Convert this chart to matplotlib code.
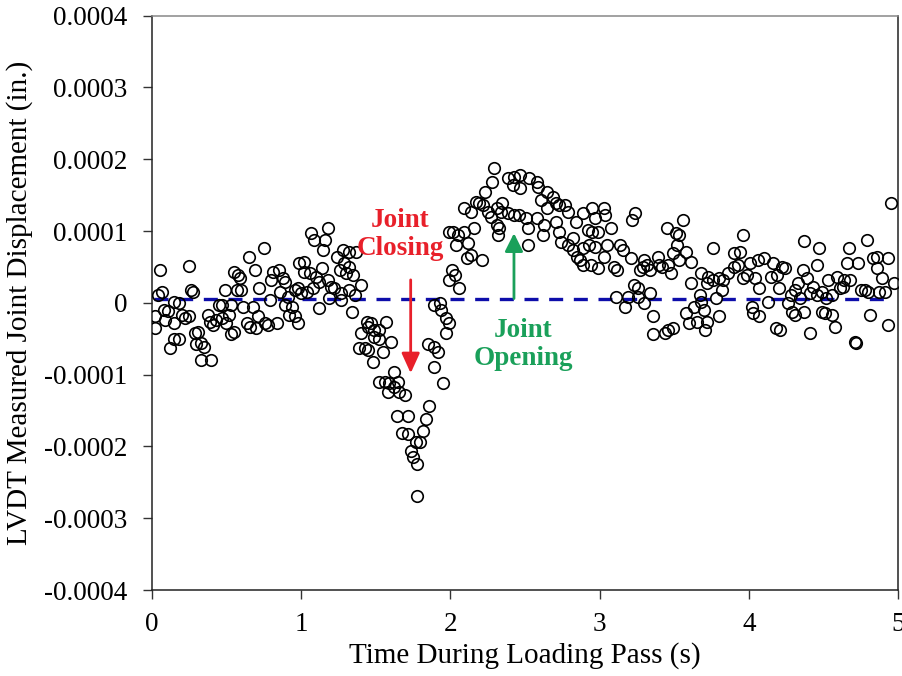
import matplotlib
matplotlib.use("Agg")
import matplotlib.pyplot as plt
import numpy as np

# ---- data (time in s, displacement in 1e-4 in.) ----
time_s = [
    0.055, 0.04, 0.07, 0.02, 0.02, 0.08, 0.11, 0.09, 0.15, 0.12, 0.15, 0.18, 0.15, 0.18, 0.20, 0.22,
    0.25, 0.26, 0.28, 0.25, 0.29, 0.31, 0.30, 0.33, 0.35, 0.33, 0.40, 0.38, 0.39, 0.41, 0.43, 0.47,
    0.45, 0.49, 0.52, 0.50, 0.53, 0.55, 0.47, 0.55, 0.58, 0.59, 0.57, 0.60, 0.53, 0.61, 0.65, 0.69,
    0.68, 0.64, 0.66, 0.70, 0.71, 0.72, 0.75, 0.76, 0.78, 0.84, 0.79, 0.80, 0.81, 0.85, 0.88, 0.89,
    0.86, 0.91, 0.96, 0.89, 0.92, 0.96, 0.98, 0.99,
    1.07, 1.09, 1.18, 1.16, 1.15, 1.02, 1.02, 1.06, 1.14, 1.10, 1.12, 0.98, 1.04, 1.00, 1.08, 1.18,
    1.20, 1.22, 1.19, 1.12, 1.24, 1.28, 1.32, 1.37, 1.26, 1.29, 1.32, 1.30, 1.35, 1.27, 1.27, 1.36,
    1.40, 1.34, 1.32, 0.94, 1.44, 1.47, 1.57, 1.45, 1.99, 1.99,
    1.49, 1.52, 1.40, 1.49, 1.52, 1.60, 1.39, 1.43, 1.45, 1.55, 1.48, 1.52, 1.56, 1.62, 1.59, 1.65,
    1.58, 1.66, 1.62, 1.70, 1.64, 1.72, 1.68, 1.72, 1.74, 1.75, 1.78, 1.77, 1.80, 1.82, 1.84, 1.86,
    1.78, 1.85, 1.89, 1.92, 1.89, 1.95, 1.89, 1.93, 1.94, 1.97, 1.99, 1.97, 2.06,
    2.29, 2.28, 2.23, 2.09, 2.14, 2.17, 2.19, 2.22, 2.25, 2.27, 2.31, 2.35, 2.34, 2.39, 2.43, 2.46,
    2.31, 2.33, 2.32, 2.39, 2.43, 2.47, 2.42, 2.47, 2.53, 2.58, 2.59, 2.61, 2.65, 2.69, 2.71, 2.73,
    2.77, 2.79, 2.65, 2.58, 2.51, 2.52, 2.63, 2.62, 2.71, 2.73, 2.74, 2.84, 2.89, 2.95, 2.97, 2.92,
    2.95, 2.82, 2.79, 2.82, 2.85, 2.89, 2.93, 2.97, 2.89, 2.94, 2.87, 2.52, 2.02, 2.05, 2.09, 2.16,
    2.04, 2.12, 2.14, 2.11, 2.21, 2.01, 2.03,
    3.03, 3.04, 3.24, 3.22, 3.08, 2.99, 3.05, 3.14, 3.16, 3.03, 3.21, 2.99, 3.10, 3.12, 3.30, 3.32,
    3.34, 3.39, 3.40, 3.42, 3.46, 3.48, 3.49, 3.52, 3.53, 3.51, 3.56, 3.45, 3.58, 3.61, 3.53, 3.29,
    3.27, 3.68, 3.76, 3.73, 3.76, 3.80, 3.83, 3.86, 3.90, 3.90, 3.93, 3.96, 3.96, 3.82, 3.78, 3.72,
    3.61, 3.67, 3.68, 3.63, 3.70, 3.58, 3.60, 3.65, 3.72, 3.71, 3.80, 3.23, 3.26, 3.34, 3.11, 3.19,
    3.26, 3.17, 3.30, 3.36, 3.36, 3.44, 3.46, 3.49,
    4.95, 4.37, 4.47, 4.67, 4.79, 3.94, 4.01, 4.06, 4.10, 4.16, 4.22, 4.24, 3.99, 4.04, 4.15, 4.19,
    4.07, 4.20, 4.36, 4.46, 4.66, 4.73, 4.83, 4.86, 4.93, 4.86, 4.89, 4.97, 4.33, 4.39, 4.53, 4.59,
    4.64, 4.68, 4.61, 4.63, 4.31, 4.43, 4.49, 4.56, 4.75, 4.78, 4.80, 4.87, 4.91, 4.28, 4.34, 4.41,
    4.46, 4.52, 4.13, 4.26, 4.02, 4.03, 4.07, 4.29, 4.31, 4.37, 4.49, 4.51, 4.56, 4.81, 4.18, 4.21,
    4.41, 4.58, 4.71, 4.93, 4.72,
]
disp_e4 = [
    0.46, 0.11, 0.15, -0.19, -0.35, -0.10, -0.12, -0.24, -0.28, -0.63, -0.51, -0.51, 0.01, 0.00, -0.17, -0.21,
    -0.19, 0.18, 0.15, 0.51, -0.42, -0.40, -0.58, -0.56, -0.61, -0.79, -0.79, -0.17, -0.26, -0.31, -0.24, -0.21,
    -0.03, 0.18, -0.17, -0.28, -0.44, -0.40, -0.03, 0.43, 0.39, 0.35, 0.18, 0.18, -0.03, -0.06, 0.64, 0.46,
    -0.06, -0.28, -0.33, -0.35, -0.19, 0.21, 0.76, -0.28, -0.31, -0.28, 0.04, 0.32, 0.43, 0.46, 0.35, 0.29,
    0.15, 0.08, 0.18, -0.03, -0.17, -0.19, -0.28, 0.56,
    0.97, 0.875, 1.04, 0.875, 0.74, 0.57, 0.43, 0.42, 0.49, 0.36, 0.29, 0.21, 0.15, 0.14, 0.21, 0.32,
    0.22, 0.21, 0.07, -0.07, 0.64, 0.74, 0.71, 0.71, 0.46, 0.56, 0.50, 0.42, 0.39, 0.14, 0.04, 0.11,
    0.25, -0.13, 0.18, -0.06, -0.26, -0.28, -0.26, -0.33, 0.99, 0.32,
    -0.38, -0.38, -0.42, -0.47, -0.51, -0.54, -0.63, -0.63, -0.65, -0.69, -0.82, -1.10, -1.10, -0.97, -1.11, -1.10,
    -1.24, -1.24, -1.17, -1.28, -1.58, -1.58, -1.81, -1.83, -2.07, -2.15, -2.25, -1.94, -1.94, -1.79, -1.62, -1.43,
    -2.69, -0.58, -0.61, -0.69, -0.89, -1.11, -0.03, 0.00, -0.10, -0.21, -0.28, -0.42, 0.21,
    1.875, 1.68, 1.54, 1.32, 1.26, 1.40, 1.39, 1.36, 1.26, 1.19, 1.32, 1.39, 1.26, 1.25, 1.22, 1.22,
    1.08, 1.04, 0.94, 1.74, 1.75, 1.78, 1.64, 1.60, 1.74, 1.68, 1.61, 1.43, 1.54, 1.47, 1.39, 1.36,
    1.36, 1.26, 1.32, 1.18, 1.18, 1.04, 1.08, 0.94, 1.13, 0.99, 0.85, 1.13, 1.25, 1.32, 1.18, 1.01,
    0.99, 0.90, 0.81, 0.74, 0.64, 0.76, 0.81, 0.78, 0.53, 0.53, 0.60, 0.81, 0.99, 0.94, 0.99, 1.04,
    0.81, 0.83, 0.67, 0.63, 0.60, 0.46, 0.39,
    1.32, 1.22, 1.25, 1.15, 1.04, 0.99, 0.81, 0.81, 0.74, 0.64, 0.63, 0.49, 0.50, 0.46, 0.60, 0.53,
    0.46, 0.64, 0.53, 0.50, 0.53, 0.42, 0.69, 0.81, 0.94, 0.97, 1.15, 1.04, 0.71, 0.57, 0.60, 0.50,
    0.46, 0.42, 0.76, 0.36, 0.32, 0.35, 0.32, 0.42, 0.69, 0.50, 0.53, 0.94, 0.35, 0.18, 0.07, 0.28,
    0.28, 0.11, 0.01, -0.06, -0.10, -0.14, -0.28, -0.26, -0.26, -0.38, -0.19, 0.25, 0.21, 0.14, 0.08, 0.08,
    0.08, -0.06, 0.00, -0.19, -0.44, -0.42, -0.38, -0.35,
    1.39, 0.86, 0.76, 0.76, 0.875, 0.71, 0.56, 0.60, 0.63, 0.56, 0.50, 0.49, 0.39, 0.35, 0.36, 0.39,
    0.21, 0.21, 0.46, 0.53, 0.56, 0.56, 0.63, 0.64, 0.63, 0.49, 0.35, 0.28, 0.28, 0.35, 0.32, 0.36,
    0.32, 0.32, 0.21, 0.22, 0.18, 0.22, 0.15, 0.11, 0.18, 0.18, 0.15, 0.15, 0.15, 0.11, 0.07, 0.14,
    0.11, 0.07, 0.01, 0.00, -0.06, -0.14, -0.19, -0.13, -0.17, -0.13, -0.13, -0.14, -0.17, -0.17, -0.35, -0.38,
    -0.42, -0.33, -0.54, -0.31, -0.56,
]
baseline_value = 0.000005
x_ticks = [0, 1, 2, 3, 4, 5]
y_ticks = [0.0004, 0.0003, 0.0002, 0.0001, 0.0, -0.0001, -0.0002, -0.0003, -0.0004]
y_tick_labels = ["0.0004", "0.0003", "0.0002", "0.0001", "0", "-0.0001", "-0.0002", "-0.0003", "-0.0004"]

plt.rcParams['font.family'] = ['Liberation Serif', 'DejaVu Serif']

fig = plt.figure(figsize=(9.03, 6.76), dpi=100)
ax = fig.add_axes([0.168, 0.1272, 0.8265, 0.8496])

disp = np.array(disp_e4) * 1e-4
ax.plot(time_s, disp, linestyle='none', marker='o', markersize=8.3,
        markerfacecolor='none', markeredgecolor='black', markeredgewidth=1.2, zorder=3)

ax.axhline(baseline_value, xmin=0.003, xmax=0.995, color='#0d0daa', linewidth=2.4,
           dashes=(4.2, 3.2), zorder=2)

# annotations
ax.annotate('', xy=(1.735, -0.000098), xytext=(1.735, 0.000032),
            arrowprops=dict(arrowstyle='-|>,head_length=0.55,head_width=0.25', color='#e8202a', lw=2.0,
                            mutation_scale=22, shrinkA=0, shrinkB=0), zorder=4)
ax.text(1.665, 0.0000955, 'Joint\nClosing', color='#e8202a', fontsize=19.5,
        fontweight='bold', ha='center', va='center', linespacing=1.15, zorder=5)

ax.annotate('', xy=(2.427, 0.000097), xytext=(2.427, 0.000006),
            arrowprops=dict(arrowstyle='-|>,head_length=0.5,head_width=0.25', color='#1aa05a', lw=2.0,
                            mutation_scale=22, shrinkA=0, shrinkB=0), zorder=4)
ax.text(2.49, -0.000058, 'Joint\nOpening', color='#1aa05a', fontsize=19.5,
        fontweight='bold', ha='center', va='center', linespacing=1.15, zorder=5)

ax.set_xlim(0, 5)
ax.set_ylim(-0.0004, 0.0004)
ax.set_xticks(x_ticks)
ax.set_xticklabels([str(v) for v in x_ticks])
ax.set_yticks(y_ticks)
ax.set_yticklabels(y_tick_labels)
ax.tick_params(axis='both', direction='out', length=6.5, width=1.0, labelsize=19.5, color='#333333')
ax.tick_params(axis='y', pad=11)
ax.tick_params(axis='x', pad=9)

for s in ['left', 'bottom', 'right']:
    ax.spines[s].set_color('#222222')
    ax.spines[s].set_linewidth(1.1)
ax.spines['top'].set_color('#888888')
ax.spines['top'].set_linewidth(1.1)

ax.set_xlabel('Time During Loading Pass (s)', fontsize=21, labelpad=4)
ax.set_ylabel('LVDT Measured Joint Displacement (in.)', fontsize=21, labelpad=8)

fig.savefig('out.png', dpi=100)
